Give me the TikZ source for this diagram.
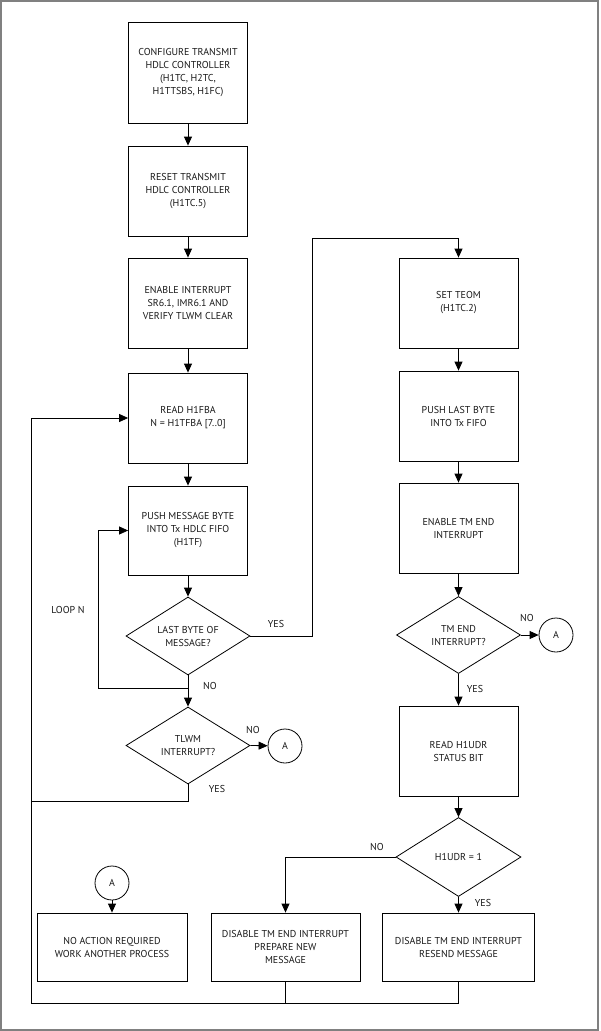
\documentclass[tikz,border=0pt]{standalone}
\usepackage{fontspec}
\setmainfont{PT Sans}
\usetikzlibrary{shapes.geometric,arrows.meta}
\begin{document}
\begin{tikzpicture}[x=1pt,y=-1pt,
  every node/.style={font=\fontsize{10}{13}\selectfont, align=center, text=black!90},
  proc/.style={draw=black, line width=0.8pt, minimum width=119pt, inner sep=0pt},
  dec/.style={draw=black, line width=0.8pt, diamond, aspect=1.6, minimum width=124pt, minimum height=78pt, inner sep=0pt},
  conn/.style={draw=black, line width=0.8pt, circle, minimum size=34pt, inner sep=0pt},
  lbl/.style={font=\fontsize{10}{11}\selectfont},
  line/.style={draw=black, line width=0.8pt},
  arr/.style={line, -{Triangle[length=9pt,width=8pt]}}]
\useasboundingbox (0,0) rectangle (600,1031);
\draw[gray, line width=2pt] (1,1) rectangle (598,1030);

% left column
\node[proc, minimum height=101pt] (b1) at (188,72.5) {CONFIGURE TRANSMIT\\HDLC CONTROLLER\\(H1TC, H2TC,\\H1TTSBS, H1FC)};
\node[proc, minimum height=90pt] (b2) at (188,191) {RESET TRANSMIT\\HDLC CONTROLLER\\(H1TC.5)};
\node[proc, minimum height=90pt] (b3) at (188,303) {ENABLE INTERRUPT\\SR6.1, IMR6.1 AND\\VERIFY TLWM CLEAR};
\node[proc, minimum height=90pt] (b4) at (188,418) {READ H1FBA\\N = H1TFBA [7..0]};
\node[proc, minimum height=89pt] (b5) at (188,530.5) {PUSH MESSAGE BYTE\\INTO Tx HDLC FIFO\\(H1TF)};
\node[dec] (d1) at (188,636) {LAST BYTE OF\\MESSAGE?};
\node[dec, minimum height=77pt] (d2) at (188,745.5) {TLWM\\INTERRUPT?};
\node[conn] (a1) at (285,746) {A};

% right column
\node[proc, minimum height=90pt] (r1) at (458.5,303) {SET TEOM\\(H1TC.2)};
\node[proc, minimum height=90pt] (r2) at (458.5,416) {PUSH LAST BYTE\\INTO Tx FIFO};
\node[proc, minimum height=90pt] (r3) at (458.5,528) {ENABLE TM END\\INTERRUPT};
\node[dec, minimum height=77pt] (d3) at (458.5,635) {TM END\\INTERRUPT?};
\node[conn] (a2) at (556,635) {A};
\node[proc, minimum height=90pt] (r4) at (458.5,751) {READ H1UDR\\STATUS BIT};
\node[dec, minimum width=125pt, minimum height=79pt] (d4) at (458.5,857) {H1UDR = 1};

% bottom row
\node[conn] (a3) at (112,883) {A};
\node[proc, minimum width=150pt, minimum height=68pt] (n1) at (112,947) {NO ACTION REQUIRED\\WORK ANOTHER PROCESS};
\node[proc, minimum width=149pt, minimum height=68pt] (n2) at (285.5,947) {DISABLE TM END INTERRUPT\\PREPARE NEW\\MESSAGE};
\node[proc, minimum width=152pt, minimum height=68pt] (n3) at (458.5,947) {DISABLE TM END INTERRUPT\\RESEND MESSAGE};

\coordinate (j1) at (188,688);
\coordinate (c31) at (31,801);
\coordinate (c1003) at (31,1003);
\coordinate (yesTop) at (312,238);

% connectors
\draw[arr] (b1) -- (b2);
\draw[arr] (b2) -- (b3);
\draw[arr] (b3) -- (b4);
\draw[arr] (b4) -- (b5);
\draw[arr] (b5) -- (d1);
\draw[line] (d1.south) -- (j1);
\draw[arr] (j1) -- (d2.north);
\draw[arr] (j1) -- (98,688) |- (b5.west);
\draw[arr] (d1.east) -| (yesTop) -| (r1.north);
\draw[arr] (d2.east) -- (a1);
\draw[line] (d2.south) |- (c31);
\draw[arr] (c1003) |- (b4.west);
\draw[line] (n2.south) -- (285.5,1003);
\draw[line] (n3.south) |- (c1003);

\draw[arr] (r1) -- (r2);
\draw[arr] (r2) -- (r3);
\draw[arr] (r3) -- (d3);
\draw[arr] (d3.east) -- (a2);
\draw[arr] (d3) -- (r4);
\draw[arr] (r4) -- (d4);
\draw[arr] (d4.west) -| (n2.north);
\draw[arr] (d4) -- (n3);
\draw[arr] (a3) -- (n1);

% labels
\node[lbl] (lN1) at (210,686) {NO};
\node[lbl] (lLoop) at (68,610) {LOOP N};
\node[lbl] (lY1) at (276,624) {YES};
\node[lbl] (lN2) at (253,730) {NO};
\node[lbl] (lY2) at (217,789) {YES};
\node[lbl] (lN3) at (527,618) {NO};
\node[lbl] (lY3) at (475,689) {YES};
\node[lbl] (lN4) at (377,847) {NO};
\node[lbl] (lY4) at (483,903) {YES};
\end{tikzpicture}
\end{document}
